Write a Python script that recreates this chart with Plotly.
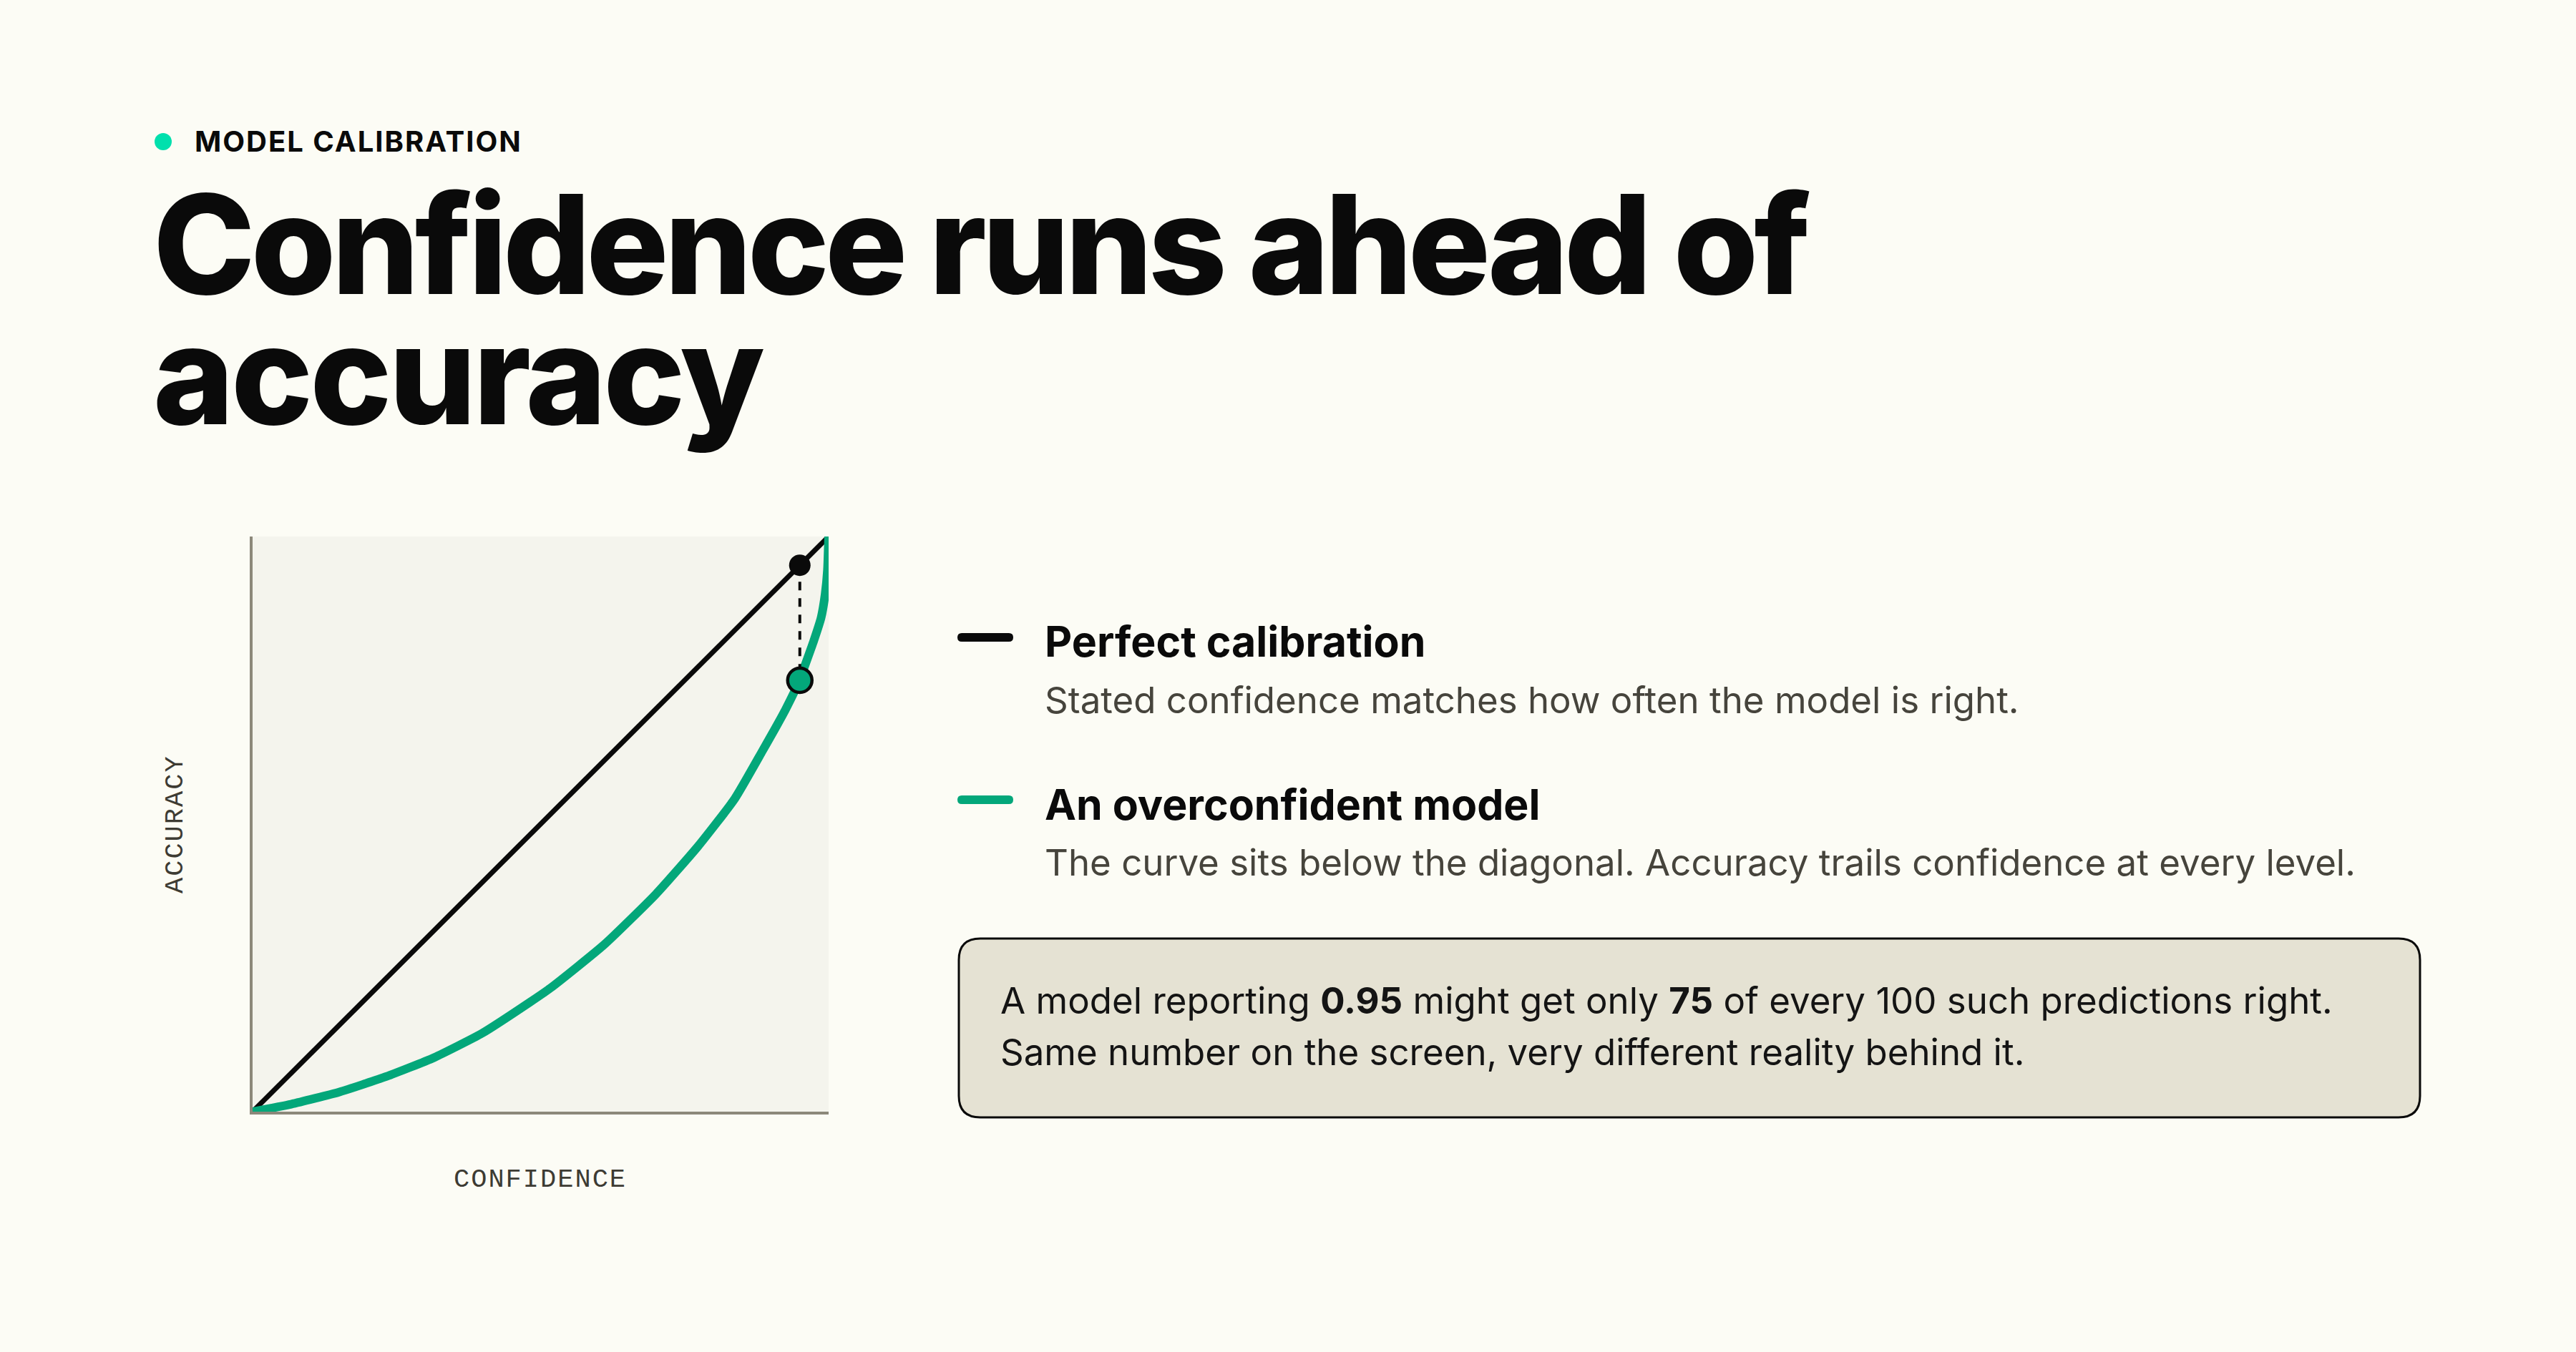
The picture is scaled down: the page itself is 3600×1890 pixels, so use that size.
import plotly.graph_objects as go

# ---------------- data ----------------
diag_conf = [0.0, 1.0]
diag_acc = [0.0, 1.0]

curve_conf = [0.0, 0.067, 0.15, 0.232, 0.315, 0.398, 0.481, 0.52, 0.61, 0.700,
              0.773, 0.837, 0.885, 0.922, 0.95, 0.959, 0.974, 0.987, 0.994, 0.998, 1.0]
curve_acc = [0.0, 0.013, 0.034, 0.061, 0.094, 0.136, 0.190, 0.217, 0.290, 0.378,
             0.461, 0.544, 0.627, 0.693, 0.75, 0.776, 0.818, 0.859, 0.900, 0.942, 1.0]

highlight_conf = [0.95]
highlight_stated = [0.95]
highlight_actual = [0.75]

eyebrow = "MODEL CALIBRATION"
title_lines = ["Confidence runs ahead of", "accuracy"]
x_label = "CONFIDENCE"
y_label = "ACCURACY"
legend_titles = ["Perfect calibration", "An overconfident model"]
legend_descs = ["Stated confidence matches how often the model is right.",
                "The curve sits below the diagonal. Accuracy trails confidence at every level."]
callout_lines = ["A model reporting <b>0.95</b> might get only <b>75</b> of every 100 such predictions right.",
                 "Same number on the screen, very different reality behind it."]

# ---------------- style ----------------
W, H = 3600, 1890
BG = "#fcfcf5"
PLOT_BG = "#f4f4ed"
GREEN = "#03a77a"
EYEBROW_GREEN = "#00e0ad"
AXIS = "#8c887a"
INK = "#0a0a0a"
BODY = "#46443c"
SANS = "Inter, 'Noto Sans', sans-serif"
MONO = "'Liberation Mono', 'DejaVu Sans Mono', monospace"


def X(px):
    return px / W


def Y(py):
    return 1 - py / H


def rounded_rect(x0, y0, x1, y1, r):
    pts = [
        f"M {X(x0 + r)},{Y(y0)}",
        f"L {X(x1 - r)},{Y(y0)}",
        f"Q {X(x1)},{Y(y0)} {X(x1)},{Y(y0 + r)}",
        f"L {X(x1)},{Y(y1 - r)}",
        f"Q {X(x1)},{Y(y1)} {X(x1 - r)},{Y(y1)}",
        f"L {X(x0 + r)},{Y(y1)}",
        f"Q {X(x0)},{Y(y1)} {X(x0)},{Y(y1 - r)}",
        f"L {X(x0)},{Y(y0 + r)}",
        f"Q {X(x0)},{Y(y0)} {X(x0 + r)},{Y(y0)}",
        "Z",
    ]
    return " ".join(pts)


fig = go.Figure()

fig.add_trace(go.Scatter(x=diag_conf, y=diag_acc, mode="lines",
                         line=dict(color=INK, width=7), hoverinfo="skip", showlegend=False))
fig.add_trace(go.Scatter(x=curve_conf, y=curve_acc, mode="lines",
                         line=dict(color=GREEN, width=12, shape="spline", smoothing=0.5),
                         hoverinfo="skip", showlegend=False))
fig.add_trace(go.Scatter(x=highlight_conf * 2, y=highlight_stated + highlight_actual, mode="lines",
                         line=dict(color=INK, width=4, dash="12px,11px"),
                         hoverinfo="skip", showlegend=False))
fig.add_trace(go.Scatter(x=highlight_conf, y=highlight_stated, mode="markers",
                         marker=dict(color=INK, size=30, line=dict(width=0)),
                         cliponaxis=False, hoverinfo="skip", showlegend=False))
fig.add_trace(go.Scatter(x=highlight_conf, y=highlight_actual, mode="markers",
                         marker=dict(color=GREEN, size=34, line=dict(color=INK, width=4.5)),
                         cliponaxis=False, hoverinfo="skip", showlegend=False))

shapes = []
annotations = []

# eyebrow
shapes.append(dict(type="circle", xref="paper", yref="paper",
                   x0=X(216), x1=X(240), y0=Y(210), y1=Y(186),
                   fillcolor=EYEBROW_GREEN, line=dict(width=0), layer="above"))
annotations.append(dict(text=f"<b>{eyebrow}</b>", x=X(270), y=Y(197), xref="paper", yref="paper",
                        xanchor="left", yanchor="middle", align="left", showarrow=False,
                        font=dict(family=SANS, size=40, color=INK)))

# title
annotations.append(dict(text=title_lines[0], x=X(212), y=Y(341), xref="paper", yref="paper",
                        xanchor="left", yanchor="middle", align="left", showarrow=False,
                        font=dict(family=SANS, size=192, color=INK, weight=800)))
annotations.append(dict(text=title_lines[1], x=X(212), y=Y(523), xref="paper", yref="paper",
                        xanchor="left", yanchor="middle", align="left", showarrow=False,
                        font=dict(family=SANS, size=192, color=INK, weight=800)))

# axis labels
annotations.append(dict(text=x_label, x=X(755), y=Y(1649), xref="paper", yref="paper",
                        xanchor="center", yanchor="middle", showarrow=False,
                        font=dict(family=MONO, size=37, color="#3d3b33")))
annotations.append(dict(text=y_label, x=X(245), y=Y(1152), xref="paper", yref="paper",
                        xanchor="center", yanchor="middle", showarrow=False, textangle=-90,
                        font=dict(family=MONO, size=37, color="#3d3b33")))

# legend
swatch_colors = [INK, GREEN]
swatch_y = [891, 1118]
title_y = [896, 1124]
desc_y = [978, 1205]
for i in range(2):
    shapes.append(dict(type="path", xref="paper", yref="paper",
                       path=rounded_rect(1338, swatch_y[i] - 6, 1416, swatch_y[i] + 6, 6),
                       fillcolor=swatch_colors[i], line=dict(width=0)))
    annotations.append(dict(text=f"<b>{legend_titles[i]}</b>", x=X(1458), y=Y(title_y[i]),
                            xref="paper", yref="paper", xanchor="left", yanchor="middle",
                            align="left", showarrow=False,
                            font=dict(family=SANS, size=59, color=INK)))
    annotations.append(dict(text=legend_descs[i], x=X(1458), y=Y(desc_y[i]),
                            xref="paper", yref="paper", xanchor="left", yanchor="middle",
                            align="left", showarrow=False,
                            font=dict(family=SANS, size=51, color=BODY)))

# callout box
shapes.append(dict(type="path", xref="paper", yref="paper",
                   path=rounded_rect(1340, 1312, 3382, 1562, 30),
                   fillcolor="#e5e2d3", line=dict(color=INK, width=3)))
callout_y = [1398, 1470]
for i in range(2):
    annotations.append(dict(text=callout_lines[i], x=X(1396), y=Y(callout_y[i]),
                            xref="paper", yref="paper", xanchor="left", yanchor="middle",
                            align="left", showarrow=False,
                            font=dict(family=SANS, size=51, color="#141414")))

axis_common = dict(range=[0, 1], showgrid=False, zeroline=False, showticklabels=False,
                   ticks="", showline=True, linecolor=AXIS, linewidth=4, fixedrange=True)

fig.update_layout(
    width=W, height=H, autosize=False,
    margin=dict(l=0, r=0, t=0, b=0, pad=0),
    paper_bgcolor=BG, plot_bgcolor=PLOT_BG,
    xaxis=dict(domain=[X(353), X(1158)], **axis_common),
    yaxis=dict(domain=[Y(1554), Y(750)], **axis_common),
    shapes=shapes, annotations=annotations,
    showlegend=False,
)

post = """
document.body.style.margin='0';
document.body.style.overflow='hidden';
var gd = document.getElementById('{plot_id}');
gd.querySelectorAll('text.annotation-text').forEach(function(t){
  var s = t.textContent;
  if (s.indexOf('Confidence runs') === 0) { t.style.letterSpacing = '-6px'; }
  else if (s === 'accuracy') { t.style.letterSpacing = '-4px'; }
  else if (s === 'MODEL CALIBRATION') { t.style.letterSpacing = '2px'; }
  else if (s === 'CONFIDENCE' || s === 'ACCURACY') { t.style.letterSpacing = '2px'; }
});
"""

fig.write_html("out.html", config={"displayModeBar": False}, post_script=post)
